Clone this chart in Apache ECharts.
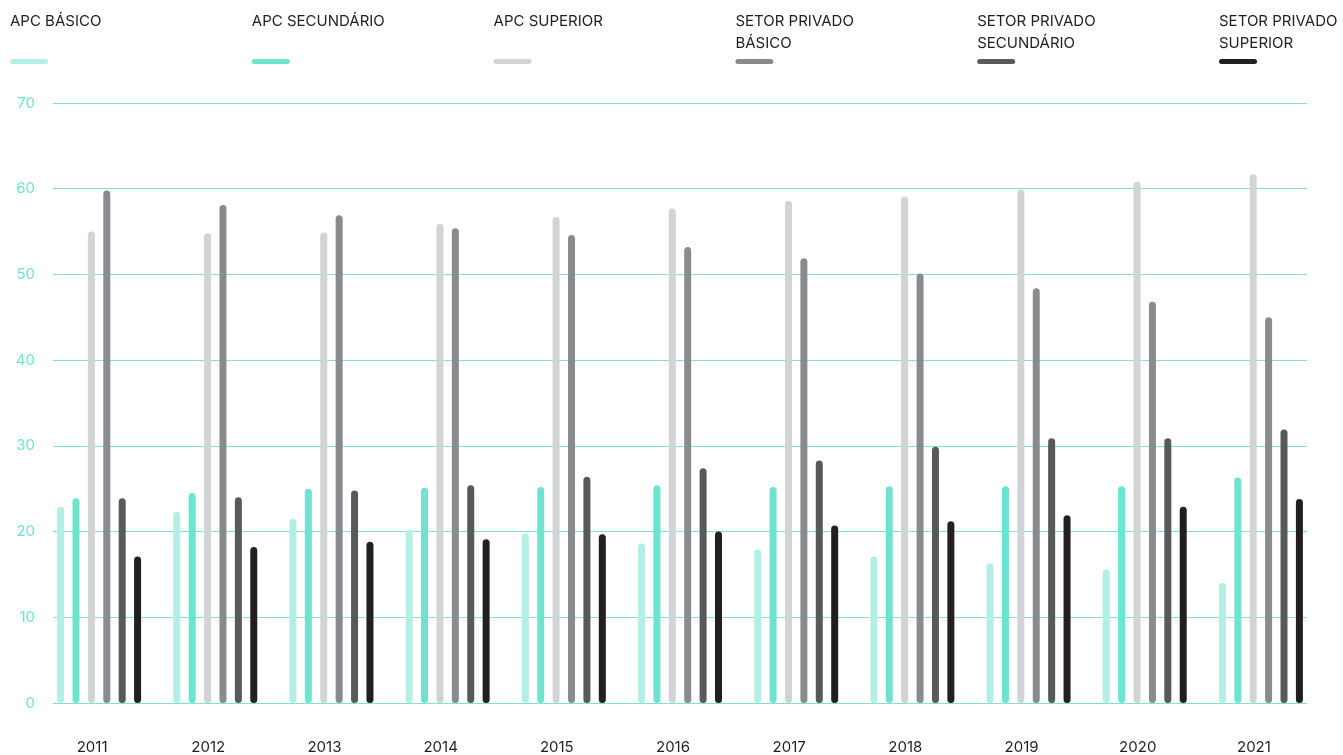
<!DOCTYPE html>
<html>
<head>
<meta charset="utf-8">
<script src="https://cdn.jsdelivr.net/npm/echarts@6/dist/echarts.min.js"></script>
<style>
  html, body { margin: 0; padding: 0; background: #ffffff; }
  #chart { width: 1343px; height: 755px; }
</style>
</head>
<body>
<div id="chart"></div>
<script>
// Years on the category axis
const years = ['2011', '2012', '2013', '2014', '2015', '2016', '2017', '2018', '2019', '2020', '2021'];

// Series names (legend labels)
const seriesNames = [
  'APC BÁSICO',
  'APC SECUNDÁRIO',
  'APC SUPERIOR',
  'SETOR PRIVADO\nBÁSICO',
  'SETOR PRIVADO\nSECUNDÁRIO',
  'SETOR PRIVADO\nSUPERIOR'
];

// Values per series, one per year
const apcBasico      = [22.9, 22.3, 21.5, 20.2, 19.8, 18.6, 17.9, 17.1, 16.3, 15.6, 14.0];
const apcSecundario  = [23.9, 24.5, 25.0, 25.1, 25.2, 25.4, 25.2, 25.3, 25.3, 25.3, 26.3];
const apcSuperior    = [55.0, 54.8, 54.9, 55.9, 56.7, 57.7, 58.6, 59.1, 59.9, 60.8, 61.7];
const spBasico       = [59.8, 58.1, 56.9, 55.4, 54.6, 53.2, 51.9, 50.1, 48.4, 46.8, 45.0];
const spSecundario   = [23.9, 24.0, 24.8, 25.4, 26.4, 27.4, 28.3, 29.9, 30.9, 30.9, 31.9];
const spSuperior     = [17.1, 18.2, 18.8, 19.1, 19.7, 20.0, 20.7, 21.2, 21.9, 22.9, 23.8];

// Value axis range and step
const yMin = 0, yMax = 70, yStep = 10;

const seriesValues = [apcBasico, apcSecundario, apcSuperior, spBasico, spSecundario, spSuperior];
const colors = ['#b3efe4', '#6ee3cf', '#d2d3d5', '#8a8b8f', '#58595b', '#231f20'];

const FONT = 'Inter, "Noto Sans", sans-serif';

// Legend: label on top, short rounded swatch underneath
const legendX0 = 10, legendStep = 241.8;
const legendGraphics = [];
seriesNames.forEach((name, i) => {
  const x = legendX0 + i * legendStep;
  legendGraphics.push({
    type: 'text',
    left: x, top: 10,
    style: {
      text: name,
      fill: '#231f20',
      font: '15px ' + FONT,
      lineHeight: 22
    }
  });
  legendGraphics.push({
    type: 'rect',
    left: x, top: 59,
    shape: { width: 38, height: 5, r: 2.5 },
    style: { fill: colors[i] }
  });
});

const chart = echarts.init(document.getElementById('chart'), null, { renderer: 'canvas' });

chart.setOption({
  animation: false,
  backgroundColor: '#ffffff',
  graphic: legendGraphics,
  grid: [
    // bars
    { left: 41, right: 24, top: 103, bottom: 52 },
    // value axis with grid lines
    { left: 53, right: 36, top: 103, bottom: 52 }
  ],
  xAxis: [
    {
      type: 'category',
      gridIndex: 0,
      data: years,
      axisLine: { show: false },
      axisTick: { show: false },
      splitLine: { show: false },
      axisLabel: {
        color: '#231f20',
        fontFamily: FONT,
        fontSize: 15,
        margin: 37,
        padding: [0, 14, 0, 0]
      }
    },
    {
      type: 'value', gridIndex: 1, min: 0, max: 1,
      axisLine: { show: false }, axisTick: { show: false },
      axisLabel: { show: false }, splitLine: { show: false }
    }
  ],
  yAxis: [
    {
      type: 'value', gridIndex: 0, min: yMin, max: yMax, interval: yStep,
      axisLine: { show: false }, axisTick: { show: false },
      axisLabel: { show: false }, splitLine: { show: false }
    },
    {
      type: 'value',
      gridIndex: 1,
      min: yMin, max: yMax, interval: yStep,
      axisLine: { show: false },
      axisTick: { show: false },
      axisLabel: { color: '#6ee3cf', fontFamily: FONT, fontSize: 15, margin: 18 },
      splitLine: { show: true, lineStyle: { color: '#7fe3d3', width: 1.2 } }
    }
  ],
  series: seriesNames.map((name, i) => ({
    name: name,
    type: 'bar',
    xAxisIndex: 0,
    yAxisIndex: 0,
    data: seriesValues[i],
    barWidth: 7,
    barGap: '120%',
    itemStyle: { color: colors[i], borderRadius: 3.5 },
    z: 3
  }))
});
</script>
</body>
</html>
